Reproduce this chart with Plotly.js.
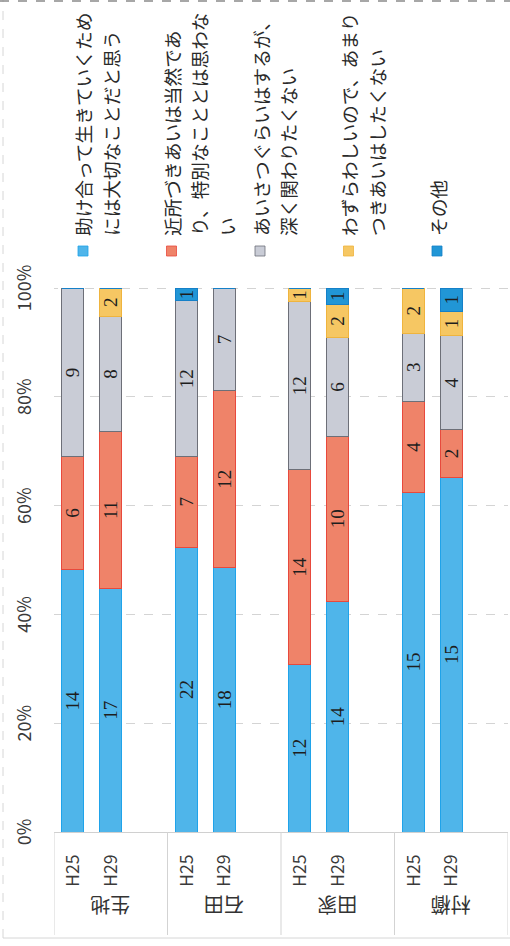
<!DOCTYPE html>
<html>
<head>
<meta charset="utf-8">
<script src="https://cdn.plot.ly/plotly-3.0.1.min.js"></script>
<style>
  html, body { margin: 0; padding: 0; background: #fff; }
  #frame { position: relative; width: 510px; height: 946px; overflow: hidden; background: #fff; }
  /* the chart is laid out as a horizontal bar chart and turned a quarter turn counter-clockwise */
  #chart { position: absolute; left: 0; top: 0; width: 946px; height: 510px;
           transform-origin: 0 0; transform: translateY(946px) rotate(-90deg); }
</style>
</head>
<body>
<div id="frame"><div id="chart"></div></div>
<script>
// ---- data ----
const districts = ['生地', '石田', '田家', '村櫛'];
const years = ['H25', 'H29'];
const percentTicks = [0, 20, 40, 60, 80, 100];
const percentLabels = ['0%', '20%', '40%', '60%', '80%', '100%'];

const seriesNames = [
  '助け合って生きていくためには大切なことだと思う',
  '近所づきあいは当然であり、特別なこととは思わない',
  'あいさつぐらいはするが、深く関わりたくない',
  'わずらわしいので、あまりつきあいはしたくない',
  'その他'
];
const legendLines = [
  ['助け合って生きていくため', 'には大切なことだと思う'],
  ['近所づきあいは当然であ', 'り、特別なこととは思わな', 'い'],
  ['あいさつぐらいはするが、', '深く関わりたくない'],
  ['わずらわしいので、あまり', 'つきあいはしたくない'],
  ['その他']
];

// answer counts, ordered 生地H25, 生地H29, 石田H25, 石田H29, 田家H25, 田家H29, 村櫛H25, 村櫛H29
const helpEachOther     = [14, 17, 22, 18, 12, 14, 15, 15];
const naturalNotSpecial = [ 6, 11,  7, 12, 14, 10,  4,  2];
const greetingOnly      = [ 9,  8, 12,  7, 12,  6,  3,  4];
const bothersome        = [ 0,  2,  0,  0,  1,  2,  2,  1];
const otherAnswers      = [ 0,  0,  1,  0,  0,  1,  0,  1];

const seriesValues = [helpEachOther, naturalNotSpecial, greetingOnly, bothersome, otherAnswers];
const seriesColors = ['#4fb5ea', '#ef8369', '#c9ccd6', '#f6c763', '#2196d6'];
const edgeColors   = ['#1fa3ea', '#e8493c', '#6d6f78', '#efb43e', '#1580c8'];

// ---- geometry (unrotated frame: 946 x 510) ----
const W = 946, H = 510;
const M = { l: 114, r: 288, t: 54, b: 2 };
const PW = W - M.l - M.r, PH = H - M.t - M.b;
const px = X => (X - M.l) / PW;          // pixel -> paper x
const py = Y => 1 - (Y - M.t) / PH;      // pixel -> paper y

const slotsPerGroup = years.length + 1;  // one empty slot after each district
const positions = [], tickText = [];
districts.forEach((d, g) => years.forEach((yr, j) => {
  positions.push(g * slotsPerGroup + j);
  tickText.push(yr);
}));

const labelFont = 'Noto Sans CJK JP, Noto Sans, sans-serif';

const traces = seriesValues.map((vals, i) => ({
  type: 'bar',
  orientation: 'h',
  name: seriesNames[i],
  x: vals,
  y: positions,
  text: vals.map(v => v > 0 ? String(v) : ''),
  textposition: 'inside',
  insidetextanchor: 'middle',
  textangle: 0,
  constraintext: 'none',
  textfont: { family: 'Liberation Serif, DejaVu Serif, serif', size: 19, color: '#1e1e1e' },
  marker: { color: seriesColors[i], line: { color: edgeColors[i], width: 1 } },
  hoverinfo: 'skip'
}));

const shapes = [];
const annotations = [];

// dashed line along the 100% edge
shapes.push({
  type: 'line', xref: 'x', yref: 'paper', x0: 100, x1: 100, y0: 0, y1: 1,
  line: { color: '#a8a8a8', width: 1, dash: 'dash' }, layer: 'below'
});

// district separators across the category axis
for (let g = 0; g <= districts.length; g++) {
  shapes.push({
    type: 'line', xref: 'paper', yref: 'y',
    x0: px(11), x1: 0, y0: g * slotsPerGroup - 0.5, y1: g * slotsPerGroup - 0.5,
    line: { color: '#d3d3d3', width: 1 }
  });
}
// district names
districts.forEach((d, g) => {
  annotations.push({
    xref: 'paper', yref: 'y', x: px(24), y: g * slotsPerGroup + (years.length - 1) / 2 + 0.5,
    text: d, showarrow: false, textangle: -90,
    font: { family: labelFont, size: 20, color: '#333' }
  });
});

// legend: swatch + wrapped lines
const legendFirstY = 83, legendStep = 88.5, lineStep = 27.5, legendTextX = 708, swatchX = 695, swatchHalf = 5;
legendLines.forEach((lines, i) => {
  const y0 = legendFirstY + i * legendStep;
  shapes.push({
    type: 'rect', xref: 'paper', yref: 'paper',
    x0: px(swatchX - swatchHalf), x1: px(swatchX + swatchHalf),
    y0: py(y0 - swatchHalf), y1: py(y0 + swatchHalf),
    fillcolor: seriesColors[i], line: { color: edgeColors[i], width: 0.8 }
  });
  lines.forEach((ln, k) => {
    annotations.push({
      xref: 'paper', yref: 'paper', x: px(legendTextX), y: py(y0 + k * lineStep),
      xanchor: 'left', yanchor: 'middle', text: ln, showarrow: false,
      font: { family: labelFont, size: 18.7, color: '#2a2a2a' }
    });
  });
});

// faint frame edges
shapes.push({ type: 'line', xref: 'paper', yref: 'paper', x0: px(8), x1: px(W), y0: py(3), y1: py(3),
              line: { color: '#d6d6d6', width: 1, dash: 'dash' } });
shapes.push({ type: 'line', xref: 'paper', yref: 'paper', x0: px(8), x1: px(8), y0: py(3), y1: py(H),
              line: { color: '#d6d6d6', width: 1 } });
shapes.push({ type: 'line', xref: 'paper', yref: 'paper', x0: px(945), x1: px(945), y0: py(0), y1: py(H),
              line: { color: '#8a8a8a', width: 1.5, dash: 'dash' } });

const layout = {
  width: W, height: H,
  margin: M,
  paper_bgcolor: '#fff', plot_bgcolor: '#fff',
  barmode: 'stack', barnorm: 'percent', bargap: 0.42,
  showlegend: false,
  xaxis: {
    side: 'top', range: [0, 100], tickmode: 'array', tickvals: percentTicks, ticktext: percentLabels,
    ticks: '', ticklabelstandoff: 18,
    tickfont: { family: labelFont, size: 18, color: '#3a3a3a' },
    showgrid: true, gridcolor: '#d4d4d4', griddash: 'dash', gridwidth: 1,
    zeroline: false, showline: false, fixedrange: true
  },
  yaxis: {
    range: [districts.length * slotsPerGroup - 0.5, -0.5],
    tickmode: 'array', tickvals: positions, ticktext: tickText,
    ticks: '', ticklabelstandoff: 18,
    tickfont: { family: labelFont, size: 17.5, color: '#3a3a3a' },
    showgrid: false, zeroline: false,
    showline: true, linecolor: '#d0d0d0', linewidth: 1, fixedrange: true
  },
  shapes: shapes,
  annotations: annotations
};

Plotly.newPlot('chart', traces, layout, { staticPlot: true, displayModeBar: false });
</script>
</body>
</html>
